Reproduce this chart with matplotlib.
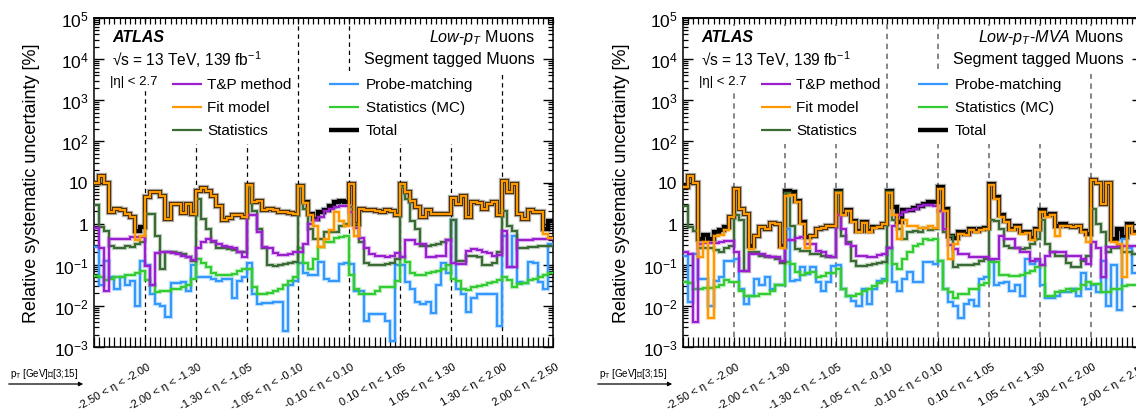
import numpy as np
import matplotlib
matplotlib.use('Agg')
import matplotlib.pyplot as plt
from matplotlib.patches import Rectangle, FancyArrowPatch
import matplotlib.patheffects as pe
from matplotlib.ticker import FixedLocator, FixedFormatter, NullFormatter

plt.rcParams['font.family'] = ['Liberation Sans', 'DejaVu Sans']
plt.rcParams['mathtext.fontset'] = 'custom'
plt.rcParams['mathtext.rm'] = 'Liberation Sans'
plt.rcParams['mathtext.it'] = 'Liberation Sans:italic'
plt.rcParams['mathtext.bf'] = 'Liberation Sans:bold'

# ---------------- data (log10 of relative uncertainty in %) -------------
eta_labels = ["-2.50 < η < -2.00", "-2.00 < η < -1.30", "-1.30 < η < -1.05",
              "-1.05 < η < -0.10", "-0.10 < η < 0.10", "0.10 < η < 1.05",
              "1.05 < η < 1.30", "1.30 < η < 2.00", "2.00 < η < 2.50"]
n_pt_bins = 10
legend_names = ["T&P method", "Fit model", "Statistics", "Probe-matching", "Statistics (MC)", "Total"]
panel_titles = [r"$Low$-$p_{T}$ Muons", r"$Low$-$p_{T}$-$MVA$ Muons"]
y_tick_values = [1e-3, 1e-2, 1e-1, 1, 10, 1e2, 1e3, 1e4, 1e5]
y_tick_labels = [r"$10^{-3}$", r"$10^{-2}$", r"$10^{-1}$", "1", "10",
                 r"$10^{2}$", r"$10^{3}$", r"$10^{4}$", r"$10^{5}$"]

left_total_log = [
    1.0, 1.17, 1.0, 0.28, 0.36, 0.32, 0.24, 0.15, -0.18, -0.09,
    0.64, 0.76, 0.78, 0.68, 0.11, 0.48, 0.48, 0.26, 0.48, 0.24,
    0.8, 0.86, 0.8, 0.68, 0.44, 0.1, 0.13, 0.2, 0.2, 0.15,
    0.93, 0.52, 0.55, 0.32, 0.36, 0.32, 0.28, 0.28, 0.26, 0.24,
    0.91, 0.52, 0.24, 0.11, 0.28, 0.32, 0.44, 0.52, 0.54, 0.52,
    0.97, 0.0, 0.36, 0.32, 0.32, 0.3, 0.28, 0.32, 0.3, 0.2,
    0.97, 0.78, 0.56, 0.4, 0.15, 0.33, 0.24, 0.24, 0.24, 0.24,
    0.62, 0.48, 0.68, 0.15, 0.52, 0.5, 0.36, 0.48, 0.52, 0.2,
    1.04, 0.76, 0.97, 0.24, 0.11, 0.32, 0.28, 0.28, -0.13, 0.07]
left_fit_log = [
    1.0, 1.17, 1.0, 0.28, 0.36, 0.32, 0.24, 0.15, -0.4, -0.3,
    0.64, 0.76, 0.78, 0.68, 0.11, 0.48, 0.48, 0.26, 0.48, 0.24,
    0.8, 0.86, 0.8, 0.68, 0.44, 0.1, 0.13, 0.2, 0.2, 0.15,
    0.93, 0.52, 0.55, 0.32, 0.36, 0.32, 0.28, 0.28, 0.26, 0.24,
    0.91, 0.5, 0.2, -0.05, -0.57, -0.37, -0.15, 0.28, 0.07, -0.05,
    0.97, -0.3, 0.36, 0.32, 0.32, 0.3, 0.28, 0.32, 0.3, 0.2,
    0.97, 0.78, 0.56, 0.4, 0.15, 0.33, 0.24, 0.24, 0.24, 0.24,
    0.62, 0.48, 0.68, 0.15, 0.52, 0.5, 0.36, 0.48, 0.52, 0.2,
    1.04, 0.76, 0.97, 0.24, 0.11, 0.32, 0.28, 0.28, -0.25, -0.35]
left_tp_log = [
    -0.1, -0.6, -1.63, -0.37, -0.37, -0.37, -0.37, -0.33, -0.33, -0.33,
    -1.02, -1.5, -0.72, -0.7, -0.7, -0.72, -0.75, -0.78, -0.8, -0.88,
    -0.6, -0.45, -0.37, -0.42, -0.5, -0.55, -0.58, -0.6, -0.7, -0.8,
    0.2, 0.2, -0.2, -0.57, -0.6, -0.72, -0.76, -0.76, -0.74, -0.7,
    -0.7, -0.5, 0.0, 0.1, 0.15, 0.3, 0.35, 0.4, 0.44, 0.44,
    0.28, -0.1, -0.35, -0.6, -0.75, -0.78, -0.78, -0.8, -0.78, -0.72,
    -0.8, -0.39, -0.39, -0.5, -0.5, -0.8, -0.8, -0.78, -0.78, -0.39,
    -0.95, -0.98, -0.98, -0.66, -0.62, -0.64, -0.68, -0.72, -0.78, -0.76,
    -0.17, -1.05, -1.05, -0.41, -0.4, -0.39, -0.38, -0.38, -0.38, -0.38]
left_stat_log = [
    0.45, -0.09, -0.17, -0.55, -0.6, -0.6, -0.55, -0.57, -0.5, -0.45,
    0.24, 0.24, -0.29, -1.1, -0.7, -0.7, -0.72, -0.75, -0.8, -0.9,
    0.6, 0.11, -0.13, -0.45, -0.6, -0.6, -0.62, -0.65, -0.7, -0.7,
    0.9, 0.3, -0.13, -0.6, -1.0, -1.02, -1.0, -0.98, -0.95, -0.93,
    0.88, 0.36, -0.13, -0.37, -0.37, -0.2, -0.2, -0.2, -0.05, 0.0,
    0.4, 0.0, -0.45, -0.95, -1.0, -1.0, -1.0, -0.98, -0.95, -0.85,
    0.9, 0.6, 0.07, -0.13, -0.55, -0.55, -0.53, -0.5, -0.45, -0.41,
    0.1, -0.9, -0.9, -0.78, -0.78, -0.8, -1.0, -1.0, -0.95, -0.7,
    0.3, -0.05, -0.17, -0.6, -0.6, -0.58, -0.56, -0.55, -0.55, -0.55]
left_probe_log = [
    -0.57, -1.5, -0.9, -1.3, -1.6, -1.3, -1.5, -1.4, -2.0, -0.9,
    -1.0, -1.7, -1.95, -2.0, -2.27, -1.45, -1.45, -1.42, -1.64, -1.0,
    -1.3, -1.3, -1.3, -1.35, -1.4, -1.35, -1.35, -1.8, -1.4, -1.3,
    -0.95, -1.7, -1.95, -1.92, -1.92, -1.9, -1.9, -2.6, -1.5, -1.4,
    -0.95, -1.2, -1.25, -1.25, -0.94, -1.35, -1.4, -1.4, -0.98, -0.95,
    -0.98, -1.65, -1.65, -2.36, -2.2, -2.2, -2.2, -2.36, -2.85, -1.0,
    -1.0, -1.42, -1.6, -1.9, -1.95, -1.9, -2.18, -1.5, -0.95, -1.2,
    0.1, -1.6, -1.7, -2.15, -1.8, -1.7, -1.7, -1.7, -1.7, -2.49,
    -0.3, -1.05, -0.29, -1.42, -1.45, -0.94, -0.95, -1.42, -1.6, -0.5]
left_mcstat_log = [
    -1.27, -1.3, -1.38, -1.35, -1.3, -1.3, -1.25, -1.25, -1.2, -1.15,
    -1.38, -1.5, -1.67, -1.65, -1.63, -1.6, -1.58, -1.55, -1.5, -1.35,
    -0.86, -0.95, -1.05, -1.2, -1.25, -1.25, -1.25, -1.22, -1.15, -1.1,
    -1.1, -1.55, -1.7, -1.72, -1.68, -1.65, -1.6, -1.5, -1.4, -1.3,
    -0.6, -0.95, -1.1, -0.86, -0.57, -0.45, -0.45, -0.35, -0.33, -0.3,
    -1.25, -1.6, -1.7, -1.72, -1.7, -1.65, -1.55, -1.55, -1.55, -1.4,
    -0.82, -0.94, -1.2, -1.25, -1.25, -1.2, -1.18, -1.15, -1.1, -1.0,
    -1.35, -1.4, -1.6, -1.62, -1.55, -1.52, -1.5, -1.45, -1.42, -1.38,
    -1.3, -1.38, -1.55, -1.47, -1.45, -1.38, -1.35, -1.3, -1.25, -1.2]

right_total_log = [
    0.88, 1.15, 0.99, -0.37, -0.27, -0.37, -0.21, -0.15, -0.09, 0.17,
    0.84, 0.36, 0.24, -0.55, -0.3, -0.09, -0.13, 0.02, 0.0, -0.55,
    0.8, 0.76, 0.56, 0.03, -0.33, -0.29, -0.13, -0.11, -0.06, -0.06,
    0.8, 0.24, 0.32, 0.07, -0.17, 0.03, -0.17, -0.09, -0.07, -0.01,
    0.8, 0.4, 0.05, 0.33, 0.33, 0.38, 0.43, 0.48, 0.52, 0.52,
    0.88, 0.36, -0.3, -0.35, -0.21, -0.25, -0.13, -0.17, -0.13, -0.11,
    0.96, 0.64, 0.2, 0.07, -0.13, -0.05, -0.21, -0.2, -0.36, -0.13,
    0.32, 0.2, 0.24, -0.05, 0.0, -0.06, -0.08, -0.05, -0.17, -0.25,
    1.06, 1.0, 0.48, 1.0, -0.37, -0.13, -0.33, 0.0, -0.2, -0.2]
right_fit_log = [
    0.88, 1.15, 0.99, -0.82, -0.45, -2.3, -0.3, -0.28, -0.15, 0.17,
    0.84, 0.36, 0.24, -0.62, -0.3, -0.09, -0.13, 0.02, 0.0, -0.6,
    0.68, 0.7, 0.52, 0.0, -0.6, -0.3, -0.13, -0.11, -0.06, -0.06,
    0.75, 0.2, 0.3, 0.05, -0.2, 0.02, -0.2, -0.1, -0.08, -0.02,
    0.75, 0.2, -0.37, 0.1, -0.05, -0.05, -0.1, -0.1, -0.05, -0.1,
    0.84, 0.3, -0.86, -0.5, -0.25, -0.28, -0.15, -0.2, -0.15, -0.13,
    0.94, 0.6, 0.15, 0.05, -0.15, -0.07, -0.25, -0.22, -0.4, -0.15,
    0.28, 0.15, 0.22, -0.3, -0.05, -0.06, -0.08, -0.05, -0.2, -0.45,
    1.06, 1.0, 0.48, 1.0, -0.45, -0.5, -1.3, -0.05, -0.25, -0.25]
right_tp_log = [
    -0.7, -0.75, -2.4, -0.5, -0.48, -0.47, -0.46, -0.45, -0.43, -0.42,
    -0.7, -1.14, -1.14, -0.73, -0.73, -0.75, -0.78, -0.8, -0.82, -0.9,
    -0.4, -0.4, -0.35, -0.33, -0.5, -0.5, -0.66, -0.7, -0.78, -0.8,
    0.2, -0.13, -0.5, -0.55, -0.78, -0.78, -0.82, -0.8, -0.76, -0.74,
    -0.6, -0.05, 0.2, 0.28, 0.32, 0.36, 0.42, 0.45, 0.45, 0.44,
    0.3, -0.13, -0.53, -0.62, -0.74, -0.74, -0.82, -0.82, -0.82, -0.8,
    -0.86, -0.86, -0.29, -0.37, -0.37, -0.6, -0.7, -0.7, -0.9, -0.85,
    -1.0, -0.78, -0.7, -0.7, -0.7, -0.78, -0.78, -0.78, -0.86, -0.98,
    -0.45, -0.6, -1.3, -0.57, -0.57, -0.55, -0.55, -0.55, -0.55, -0.55]
right_stat_log = [
    0.44, -0.09, -0.17, -0.6, -0.6, -0.6, -0.65, -0.68, -0.6, -0.55,
    0.2, 0.1, -1.14, -0.7, -0.7, -0.78, -0.82, -0.82, -0.85, -0.95,
    0.75, -0.05, -0.62, -0.66, -0.66, -0.75, -0.75, -0.78, -0.82, -0.82,
    0.76, -0.29, -0.45, -0.9, -1.02, -1.02, -1.0, -0.98, -0.95, -0.94,
    0.78, 0.1, -0.13, -0.37, -0.2, -0.17, -0.2, -0.1, -0.15, -0.13,
    0.3, -0.21, -0.29, -1.05, -1.0, -1.0, -1.0, -0.98, -0.92, -0.86,
    0.1, 0.07, -0.13, -0.55, -0.6, -0.6, -0.62, -0.6, -0.5, -0.37,
    0.1, -0.5, -0.7, -0.78, -0.78, -0.95, -1.05, -1.05, -0.9, -0.78,
    0.36, 0.0, -0.2, -0.7, -0.6, -0.6, -0.7, -0.7, -0.73, -0.73]
right_probe_log = [
    -0.78, -1.9, -0.74, -1.35, -1.35, -2.0, -1.4, -1.3, -0.9, -0.9,
    -0.86, -1.6, -1.95, -1.75, -1.35, -1.5, -1.3, -1.6, -1.5, -1.5,
    -0.13, -1.4, -1.38, -1.06, -1.22, -1.06, -1.42, -1.65, -1.42, -1.02,
    -1.0, -1.6, -1.75, -1.87, -2.0, -1.6, -1.95, -1.6, -1.4, -1.35,
    -0.6, -1.42, -1.65, -1.35, -1.18, -1.42, -1.42, -0.94, -0.94, -0.98,
    -0.9, -1.6, -1.9, -2.0, -2.3, -1.95, -1.85, -2.0, -1.35, -1.3,
    -0.9, -1.5, -1.45, -1.42, -1.65, -1.5, -1.75, -0.86, -0.98, -0.9,
    -1.5, -1.8, -1.8, -1.75, -1.67, -1.67, -1.6, -1.75, -1.2, -1.6,
    -1.5, -1.67, -0.9, -2.0, -1.0, -2.1, -0.37, -0.6, -1.2, -1.2]
right_mcstat_log = [
    -1.43, -1.45, -1.59, -1.58, -1.57, -1.57, -1.53, -1.5, -1.38, -1.42,
    -1.43, -1.63, -1.75, -1.75, -1.75, -1.72, -1.7, -1.65, -1.5, -1.5,
    -0.94, -0.98, -1.18, -1.26, -1.2, -1.18, -1.3, -1.28, -1.2, -1.2,
    -1.1, -1.58, -1.75, -1.75, -1.72, -1.65, -1.6, -1.52, -1.45, -1.4,
    -0.6, -0.98, -1.1, -0.86, -0.7, -0.54, -0.5, -0.37, -0.4, -0.37,
    -0.9, -1.59, -1.67, -1.8, -1.72, -1.72, -1.6, -1.6, -1.5, -1.45,
    -0.94, -0.94, -1.26, -1.26, -1.28, -1.28, -1.24, -1.2, -1.14, -1.06,
    -1.0, -1.75, -1.75, -1.67, -1.63, -1.6, -1.63, -1.6, -1.5, -1.42,
    -1.47, -1.47, -1.67, -1.67, -1.59, -1.59, -1.52, -1.5, -1.5, -1.5]

# ---------------- style ----------------
C_TP = '#9a1fcf'
C_FIT = '#ff9900'
C_STAT = '#3b6b35'
C_PROBE = '#3399ff'
C_MC = '#33cc33'
C_TOT = '#000000'

W, H = 1136, 410
AX_W, AX_H, AX_T = 459, 329, 19
fig = plt.figure(figsize=(W / 100, H / 100), dpi=100)


def draw_panel(left_px, title, total, fit, tp, stat, probe, mc, dash_color, dash_lw):
    ax = fig.add_axes([left_px / W, (H - AX_T - AX_H) / H, AX_W / W, AX_H / H])
    nb = len(eta_labels) * n_pt_bins
    edges = np.arange(nb + 1)

    # positions given as pixel offsets measured in the left panel frame (axes left at 94)
    def fx(px):
        return (px - 94) / AX_W

    def fy(py):
        return 1 - (py - AX_T) / AX_H

    def hist(vals_log, color, lw, z):
        v = 10.0 ** np.asarray(vals_log)
        ax.stairs(v, edges, color=color, lw=lw, zorder=z, baseline=None,
                  path_effects=[pe.Stroke(linewidth=lw + 1.6, foreground=color, alpha=0.3),
                                pe.Normal()])

    hist(total, C_TOT, 3.0, 3)
    hist(probe, C_PROBE, 1.5, 4)
    hist(mc, C_MC, 1.5, 4.1)
    hist(stat, C_STAT, 1.5, 4.2)
    hist(tp, C_TP, 1.5, 4.3)
    hist(fit, C_FIT, 1.5, 4.4)

    ax.set_yscale('log')
    ax.set_ylim(1e-3, 1e5)
    ax.set_xlim(0, nb)

    # region boundaries
    for r in range(1, len(eta_labels)):
        ax.axvline(r * n_pt_bins, color=dash_color, lw=dash_lw, ls=(0, (3.5, 3)), zorder=1.0)

    # white boxes behind labels/legend (hide dashed lines like the original)
    for (x0, y0, x1, y1) in [(107, 27, 290, 92), (165, 72, 290, 145),
                             (355, 27, 548, 75), (320, 72, 482, 145)]:
        ax.add_patch(Rectangle((fx(x0), fy(y1)), fx(x1) - fx(x0), fy(y0) - fy(y1),
                               transform=ax.transAxes, facecolor='white',
                               edgecolor='none', zorder=1.2))

    # ticks
    ax.yaxis.set_major_locator(FixedLocator(y_tick_values))
    ax.yaxis.set_major_formatter(FixedFormatter(y_tick_labels))
    ax.yaxis.set_minor_locator(FixedLocator(
        [m * 10.0 ** e for e in range(-3, 5) for m in range(2, 10)]))
    ax.yaxis.set_minor_formatter(NullFormatter())
    ax.tick_params(axis='y', which='major', direction='in', length=7.5, width=1.0,
                   left=True, right=True, labelsize=12.5, pad=4)
    ax.tick_params(axis='y', which='minor', direction='in', length=3.8, width=0.9,
                   left=True, right=True)
    ax.xaxis.set_major_locator(FixedLocator(edges))
    ax.xaxis.set_major_formatter(NullFormatter())
    ax.tick_params(axis='x', which='major', direction='in', length=7.2, width=0.9,
                   bottom=True, top=False)
    sec = ax.secondary_xaxis('top')
    sec.xaxis.set_major_locator(FixedLocator(edges))
    sec.xaxis.set_major_formatter(NullFormatter())
    sec.tick_params(axis='x', direction='in', length=4.3, width=0.9)
    sec.spines['top'].set_linewidth(1.1)
    for s in ax.spines.values():
        s.set_linewidth(1.1)

    # eta labels
    for r, lab in enumerate(eta_labels):
        xr = (r + 1) * n_pt_bins + 0.4
        ax.text(xr, fy(362), lab, transform=ax.get_xaxis_transform(), rotation=30,
                rotation_mode='anchor', ha='right', va='top', fontsize=8)

    # y label
    fig.text((left_px - 62) / W, (H - AX_T - AX_H / 2) / H, "Relative systematic uncertainty [%]",
             rotation=90, ha='center', va='center', fontsize=13)

    # pT label and arrow
    fig.text((left_px - 84) / W, 1 - 374 / H, r"p$_{\mathregular{T}}$ [GeV]∈[3;15]",
             fontsize=7, va='center', ha='left')
    fig.add_artist(FancyArrowPatch(
        ((left_px - 88) / W, 1 - 385 / H), ((left_px - 8) / W, 1 - 385 / H),
        transform=fig.transFigure, arrowstyle='-|>', mutation_scale=6, lw=0.9, color='k'))

    # ATLAS labels
    ax.text(fx(112), fy(38), "ATLAS", transform=ax.transAxes, fontsize=11.5,
            fontweight='bold', fontstyle='italic', va='center', ha='left', zorder=6)
    ax.text(fx(112), fy(60), r"√s = 13 TeV, 139 fb$^{\mathregular{-1}}$", transform=ax.transAxes,
            fontsize=11.2, va='center', ha='left', zorder=6)
    ax.text(fx(110), fy(82), "|η| < 2.7", transform=ax.transAxes,
            fontsize=9.5, va='center', ha='left', zorder=6)
    ax.text(fx(535), fy(38), title, transform=ax.transAxes,
            fontsize=11.6, va='center', ha='right', zorder=6)
    ax.text(fx(535), fy(60), "Segment tagged Muons", transform=ax.transAxes,
            fontsize=11.6, va='center', ha='right', zorder=6)

    # legend
    cols = [C_TP, C_FIT, C_STAT, C_PROBE, C_MC, C_TOT]
    lws = [1.6, 1.6, 1.6, 1.6, 1.6, 3.2]
    rows_y = [85, 108, 131]
    for i, name in enumerate(legend_names):
        col = i // 3
        row = i % 3
        lx0, lx1, tx = (172, 202, 207) if col == 0 else (329, 359, 366)
        ax.plot([fx(lx0), fx(lx1)], [fy(rows_y[row])] * 2, transform=ax.transAxes,
                color=cols[i], lw=lws[i], solid_capstyle='butt', zorder=6, clip_on=False)
        ax.text(fx(tx), fy(rows_y[row]), name, transform=ax.transAxes, fontsize=11,
                va='center', ha='left', zorder=6)
    return ax


draw_panel(94, panel_titles[0], left_total_log, left_fit_log, left_tp_log, left_stat_log,
           left_probe_log, left_mcstat_log, 'black', 0.9)
draw_panel(683, panel_titles[1], right_total_log, right_fit_log, right_tp_log, right_stat_log,
           right_probe_log, right_mcstat_log, '#666666', 1.1)

fig.savefig('out.png', dpi=100)
